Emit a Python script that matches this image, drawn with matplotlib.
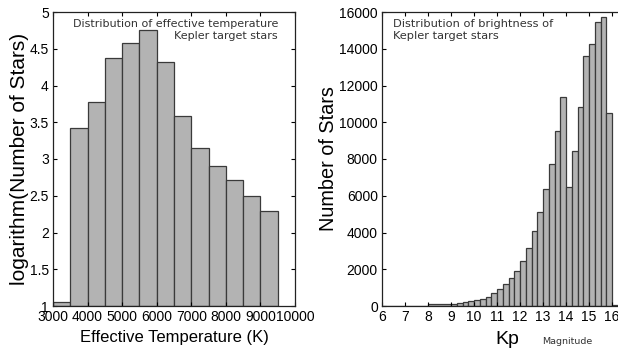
import numpy as np
import matplotlib
matplotlib.use("Agg")
import matplotlib.pyplot as plt

# effective temperature histogram (bin left edges, log10 counts)
teff_edges = [3000, 3500, 4000, 4500, 5000, 5500, 6000, 6500, 7000, 7500, 8000, 8500, 9000]
teff_logn = [1.06, 3.42, 3.78, 4.37, 4.58, 4.75, 4.32, 3.58, 3.15, 2.91, 2.71, 2.49, 2.29]
teff_width = 500
teff_yticks = [1, 1.5, 2, 2.5, 3, 3.5, 4, 4.5, 5]
teff_ylabels = ['1', '1.5', '2', '2.5', '3', '3.5', '4', '4.5', '5']
teff_xticks = [3000, 4000, 5000, 6000, 7000, 8000, 9000, 10000]

# Kp magnitude histogram (bin left edges, widths, counts)
kp_edges = [6, 7, 8] + [9 + 0.25 * i for i in range(29)]
kp_widths = [1, 1, 1] + [0.25] * 29
kp_counts = [25, 25, 130,
             110, 160, 215, 255, 310, 380, 505, 690,
             920, 1180, 1520, 1920, 2430, 3150, 4070, 5140,
             6350, 7750, 9520, 11380, 6450, 8420, 10830, 13620,
             14260, 15440, 15750, 10500, 60]
kp_yticks = [0, 2000, 4000, 6000, 8000, 10000, 12000, 14000, 16000]
kp_xticks = [6, 7, 8, 9, 10, 11, 12, 13, 14, 15, 16]

bar_face = '#b3b3b3'
bar_edge = '#3a3a3a'
sans = ['Liberation Sans', 'DejaVu Sans']
note_col = '#333333'

fig = plt.figure(figsize=(6.18, 3.54), dpi=100)

def style(ax):
    ax.tick_params(direction='in', top=True, right=True, length=3,
                   width=0.8, labelsize=10, pad=3)
    for lab in ax.get_xticklabels() + ax.get_yticklabels():
        lab.set_family(sans)
    for s in ax.spines.values():
        s.set_linewidth(0.9)
        s.set_color('#222222')

# left panel
ax1 = fig.add_axes([53/618, 48/354, 242/618, 294/354])
ax1.bar(teff_edges, np.array(teff_logn) - 1, width=teff_width, bottom=1,
        align='edge', color=bar_face, edgecolor=bar_edge, linewidth=0.9)
ax1.set_xlim(3000, 10000)
ax1.set_ylim(1, 5)
ax1.set_yticks(teff_yticks)
ax1.set_yticklabels(teff_ylabels)
ax1.set_xticks(teff_xticks)
ax1.set_xticklabels([str(t) for t in teff_xticks])
style(ax1)
ax1.set_xlabel('Effective Temperature (K)', fontsize=12, family=sans, labelpad=4)
ax1.set_ylabel('logarithm(Number of Stars)', fontsize=15, family=sans, labelpad=0)
ax1.text(0.93, 0.975, 'Distribution of effective temperature\nKepler target stars',
         transform=ax1.transAxes, ha='right', va='top', fontsize=8,
         color=note_col, linespacing=1.2, multialignment='right')

# right panel
ax2 = fig.add_axes([382/618, 48/354, 241.5/618, 294/354])
ax2.bar(kp_edges, kp_counts, width=kp_widths, align='edge',
        color=bar_face, edgecolor=bar_edge, linewidth=0.9)
ax2.set_xlim(6, 16.5)
ax2.set_ylim(0, 16000)
ax2.set_yticks(kp_yticks)
ax2.set_xticks(kp_xticks)
style(ax2)
ax2.set_ylabel('Number of Stars', fontsize=14.3, family=sans, labelpad=1)
ax2.text(0.047, 0.975, 'Distribution of brightness of\nKepler target stars',
         transform=ax2.transAxes, ha='left', va='top', fontsize=8.2,
         color=note_col, linespacing=1.2)
fig.text(507/618, 1 - 339/354, 'Kp', fontsize=14, family=sans,
         ha='center', va='center')
fig.text(567/618, 1 - 342/354, 'Magnitude', fontsize=6.8,
         color=note_col, ha='center', va='center')

fig.savefig('out.png', dpi=100)
